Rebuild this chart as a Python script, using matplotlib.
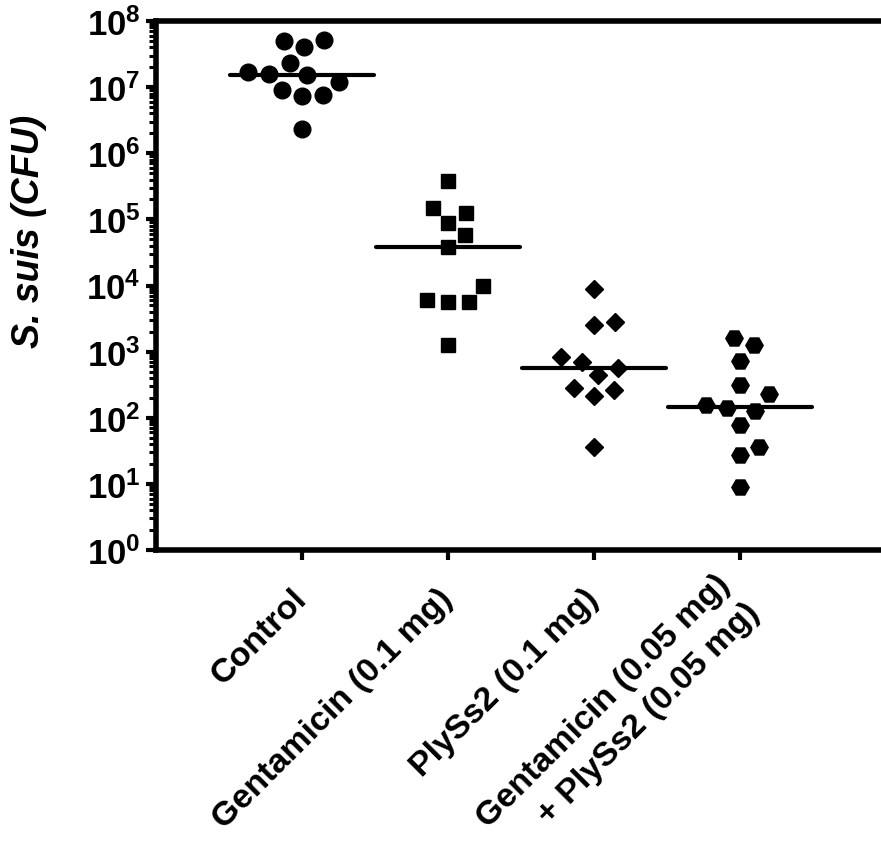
import numpy as np
import matplotlib
matplotlib.use('Agg')
import matplotlib.pyplot as plt
from matplotlib.ticker import FixedLocator, FixedFormatter, NullFormatter

plt.rcParams['font.family'] = ['Liberation Sans', 'DejaVu Sans']
plt.rcParams['mathtext.fontset'] = 'custom'
plt.rcParams['mathtext.bf'] = 'Liberation Sans:bold'
plt.rcParams['mathtext.rm'] = 'Liberation Sans:bold'
plt.rcParams['mathtext.default'] = 'bf'

# CFU per animal
groups = ['Control', 'Gentamicin (0.1 mg)', 'PlySs2 (0.1 mg)',
          'Gentamicin (0.05 mg)\n+ PlySs2 (0.05 mg)']
control = [4.9e7, 4.0e7, 5.2e7, 2.3e7, 1.6e7, 1.2e7, 1.5e7, 1.7e7,
           7.6e6, 7.4e6, 9.1e6, 2.3e6]
gentamicin = [3.85e5, 1.25e5, 1.47e5, 8.8e4, 5.8e4, 3.8e4, 9.9e3,
              5.7e3, 5.6e3, 6.1e3, 1.26e3]
plyss2 = [8.8e3, 2.8e3, 2.5e3, 820, 690, 440, 560, 260, 215, 280, 36]
combo = [1590, 1260, 730, 313, 226, 139, 128, 156, 78, 36.5, 27, 8.9]
y_exponents = list(range(0, 9))

series = [control, gentamicin, plyss2, combo]
markers = ['o', 's', 'D', 'H']
msizes = [12.0, 10.0, 9.0, 12.5]


def swarm_offsets(values, diam, px_per_dec):
    # simple greedy beeswarm in pixel space
    ys = np.log10(values) * px_per_dec
    xs = np.zeros(len(ys))
    placed = []
    for i in np.argsort(ys):
        cands = [0.0]
        for px, py in placed:
            dy = ys[i] - py
            if abs(dy) < diam:
                dx = np.sqrt(diam ** 2 - dy ** 2)
                cands += [px + dx, px - dx]
        cands.sort(key=abs)
        for c in cands:
            if all((c - px) ** 2 + (ys[i] - py) ** 2 >= diam ** 2 - 1e-6 for px, py in placed):
                xs[i] = c
                break
        placed.append((xs[i], ys[i]))
    return xs


W, H = 881, 854
left = 156
fig = plt.figure(figsize=(W / 100, H / 100), dpi=100)
ax = fig.add_axes([left / W, 1 - 551 / H, 1 - left / W, (551 - 22) / H])

xmax = (W - left) / 146.0
ax.set_xlim(0, xmax)
ax.set_yscale('log')
ax.set_ylim(1, 1e8)

pos = ax.get_position()
px_per_unit = pos.width * W / xmax
px_per_dec = pos.height * H / 8

for i, vals in enumerate(series):
    x0 = i + 1
    offs = swarm_offsets(vals, 21, px_per_dec) / px_per_unit
    ax.plot(x0 + offs, vals, linestyle='none', marker=markers[i],
            markersize=msizes[i], color='black', zorder=3)
    med = np.median(vals)
    ax.plot([x0 - 0.49, x0 + 0.49], [med, med], color='black', lw=3.0,
            solid_capstyle='round', zorder=4)

for side in ['left', 'top', 'bottom']:
    ax.spines[side].set_linewidth(4.0)
ax.spines['right'].set_visible(False)

ax.yaxis.set_major_locator(FixedLocator([10.0 ** e for e in y_exponents]))
ax.yaxis.set_major_formatter(FixedFormatter([r'$10^{%d}$' % e for e in y_exponents]))
minor = [m * 10.0 ** e for e in y_exponents[:-1] for m in range(2, 10)]
ax.yaxis.set_minor_locator(FixedLocator(minor))
ax.yaxis.set_minor_formatter(NullFormatter())
ax.tick_params(axis='y', which='major', length=7, width=3, labelsize=25, pad=4)
ax.tick_params(axis='y', which='minor', length=5, width=2.2)

# x labels: single-line ones as tick labels, the two-line one line by line
tick_len, tick_pad, fs = 7, 24, 24.5
xt_labels = [g if '\n' not in g else '' for g in groups]
ax.set_xticks(range(1, len(groups) + 1))
ax.set_xticklabels(xt_labels, rotation=45, ha='right', va='center',
                   rotation_mode='anchor', fontsize=fs, fontweight='bold')
ax.tick_params(axis='x', which='major', length=tick_len, width=3, pad=tick_pad)
ax.tick_params(axis='x', which='minor', length=0)

half = 0.6 * fs * 0.707
for i, g in enumerate(groups):
    lines = g.split('\n')
    if len(lines) < 2:
        continue
    for k, line in enumerate(lines):
        s = -1 if k == 0 else 1
        ax.annotate(line, xy=(i + 1, 0), xycoords=('data', 'axes fraction'),
                    xytext=(s * half, -(tick_len + tick_pad) - s * half),
                    textcoords='offset points', rotation=45, ha='right',
                    va='center', rotation_mode='anchor', fontsize=fs,
                    fontweight='bold', annotation_clip=False)

ax.set_ylabel('S. suis (CFU)', fontsize=27, fontweight='bold', fontstyle='italic')
ax.yaxis.set_label_coords(-0.151, 0.605)

fig.savefig('out.png', dpi=100)
